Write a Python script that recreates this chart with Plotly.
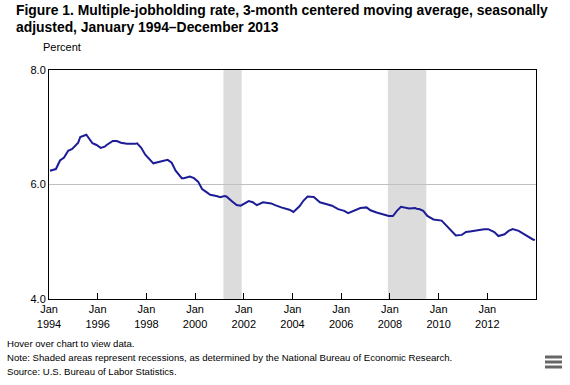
import plotly.graph_objects as go

# ---- data ----
months = [
    "1994-01", "1994-04", "1994-06", "1994-08", "1994-10", "1994-12",
    "1995-03", "1995-04", "1995-07", "1995-08", "1995-10", "1995-12",
    "1996-02", "1996-04", "1996-05", "1996-08", "1996-10", "1996-12",
    "1997-03", "1997-07", "1997-08", "1997-10", "1997-11", "1997-12",
    "1998-04", "1998-08", "1998-11", "1999-01", "1999-03", "1999-06",
    "1999-07", "1999-10", "1999-12", "2000-02", "2000-04", "2000-06",
    "2000-08", "2000-11", "2001-01", "2001-03", "2001-04", "2001-07",
    "2001-09", "2001-11", "2002-03", "2002-05", "2002-07", "2002-10",
    "2003-02", "2003-04", "2003-07", "2003-11", "2004-01", "2004-04",
    "2004-06", "2004-08", "2004-11", "2005-02", "2005-05", "2005-08",
    "2005-11", "2006-02", "2006-04", "2006-07", "2006-10", "2007-01",
    "2007-03", "2007-06", "2007-09", "2007-12", "2008-02", "2008-04",
    "2008-06", "2008-09", "2008-10", "2009-01", "2009-02", "2009-03",
    "2009-05", "2009-07", "2009-08", "2009-10", "2010-02", "2010-04",
    "2010-06", "2010-09", "2010-12", "2011-02", "2011-04", "2011-08",
    "2011-11", "2012-01", "2012-04", "2012-06", "2012-09", "2012-11",
    "2013-01", "2013-04", "2013-07", "2013-09", "2013-11", "2013-12",
]
rate = [
    6.24, 6.27, 6.42, 6.47, 6.59, 6.62,
    6.73, 6.83, 6.87, 6.82, 6.72, 6.69,
    6.64, 6.66, 6.69, 6.76, 6.76, 6.73,
    6.71, 6.71, 6.72, 6.64, 6.57, 6.52,
    6.37, 6.40, 6.43, 6.38, 6.24, 6.11,
    6.11, 6.14, 6.11, 6.05, 5.92, 5.87,
    5.82, 5.80, 5.78, 5.80, 5.79, 5.70,
    5.64, 5.63, 5.71, 5.69, 5.64, 5.69,
    5.67, 5.64, 5.60, 5.56, 5.52, 5.62,
    5.72, 5.79, 5.78, 5.69, 5.66, 5.63,
    5.57, 5.54, 5.50, 5.54, 5.59, 5.60,
    5.55, 5.51, 5.48, 5.45, 5.45, 5.54,
    5.61, 5.59, 5.58, 5.59, 5.57, 5.57,
    5.54, 5.45, 5.43, 5.39, 5.37, 5.30,
    5.21, 5.11, 5.12, 5.17, 5.18, 5.21,
    5.22, 5.22, 5.17, 5.10, 5.13, 5.19,
    5.22, 5.19, 5.12, 5.08, 5.04, 5.03,
]

recession_starts = ["2001-03-01", "2007-12-01"]
recession_ends = ["2001-11-30", "2009-06-30"]

x_tick_dates = ["1994-01-01", "1996-01-01", "1998-01-01", "2000-01-01", "2002-01-01",
                "2004-01-01", "2006-01-01", "2008-01-01", "2010-01-01", "2012-01-01"]
x_tick_text = ["Jan<br>1994", "Jan<br>1996", "Jan<br>1998", "Jan<br>2000", "Jan<br>2002",
               "Jan<br>2004", "Jan<br>2006", "Jan<br>2008", "Jan<br>2010", "Jan<br>2012"]
y_tick_vals = [4.0, 6.0, 8.0]
y_tick_text = ["4.0", "6.0", "8.0"]

title_lines = ["Figure 1. Multiple-jobholding rate, 3-month centered moving average, seasonally",
               "adjusted, January 1994–December 2013"]
notes = ["Hover over chart to view data.",
         "Note: Shaded areas represent recessions, as determined by the National Bureau of Economic Research.",
         "Source: U.S. Bureau of Labor Statistics."]

# ---- figure ----
W, H = 570, 385
L, R, T, B = 49, 34, 70, 86
PW, PH = W - L - R, H - T - B


def px(x):
    return (x - L) / PW


def py(y):
    return (H - B - y) / PH


fig = go.Figure()
fig.add_trace(go.Scatter(
    x=[m + "-15" for m in months], y=rate, mode="lines",
    line=dict(color="#1c1c96", width=2), hoverinfo="x+y", showlegend=False,
))

for s, e in zip(recession_starts, recession_ends):
    fig.add_vrect(x0=s, x1=e, fillcolor="#dcdcdc", line_width=0, layer="below", opacity=1)

font_main = "Liberation Sans, Arial, sans-serif"

annotations = []
annotations.append(dict(text="<b>" + title_lines[0] + "</b>", x=px(14), y=py(10), xref="paper", yref="paper",
                        xanchor="left", yanchor="middle", showarrow=False,
                        font=dict(family=font_main, size=13.9, color="#000")))
annotations.append(dict(text="<b>" + title_lines[1] + "</b>", x=px(14), y=py(27), xref="paper", yref="paper",
                        xanchor="left", yanchor="middle", showarrow=False,
                        font=dict(family=font_main, size=13.9, color="#000")))
annotations.append(dict(text="Percent", x=px(41), y=py(47), xref="paper", yref="paper",
                        xanchor="left", yanchor="middle", showarrow=False,
                        font=dict(family=font_main, size=11, color="#000")))
for i, (t, yy) in enumerate(zip(notes, [343, 357, 371])):
    annotations.append(dict(text=t, x=px(5), y=py(yy), xref="paper", yref="paper",
                            xanchor="left", yanchor="middle", showarrow=False,
                            font=dict(family=font_main, size=9.6, color="#000")))

shapes = []
for yy in [357, 362, 367]:
    shapes.append(dict(type="line", xref="paper", yref="paper", x0=px(545), x1=px(562),
                       y0=py(yy), y1=py(yy), line=dict(color="#666666", width=3)))

fig.update_layout(
    width=W, height=H,
    margin=dict(l=L, r=R, t=T, b=B, pad=0),
    paper_bgcolor="white", plot_bgcolor="white",
    annotations=annotations,
    font=dict(family=font_main, size=11, color="#000"),
    hovermode="closest",
)
for sh in shapes:
    fig.add_shape(**sh)

fig.update_xaxes(
    range=["1994-01-01", "2013-12-31"],
    tickvals=x_tick_dates, ticktext=x_tick_text,
    ticks="inside", ticklen=6, tickcolor="#000", tickwidth=1,
    showline=True, linecolor="#000", linewidth=1, mirror=True,
    showgrid=False, zeroline=False,
    tickfont=dict(family=font_main, size=11, color="#000"),
)
fig.update_yaxes(
    range=[4.0, 8.0],
    tickvals=y_tick_vals, ticktext=y_tick_text,
    ticks="", showline=True, linecolor="#000", linewidth=1, mirror=True,
    showgrid=True, gridcolor="#c0c0c0", gridwidth=1, zeroline=False,
    tickfont=dict(family=font_main, size=11, color="#000"),
)

fig.write_html("out.html", config={"displayModeBar": False},
               post_script="document.body.style.margin='0px';")
